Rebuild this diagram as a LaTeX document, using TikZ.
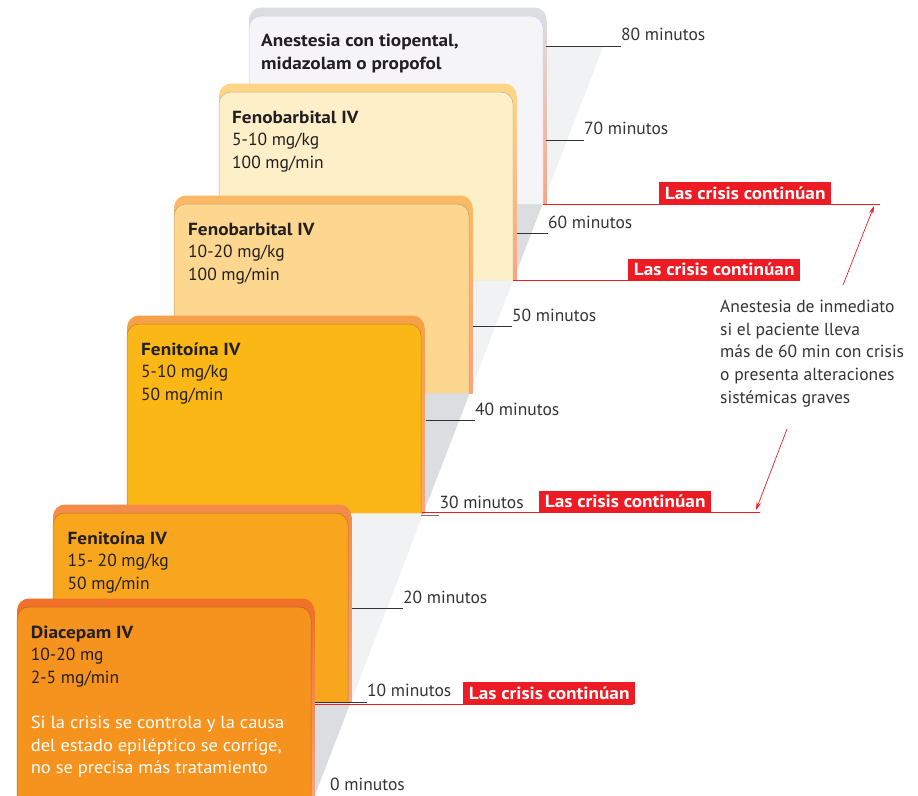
\documentclass[tikz,border=0pt]{standalone}
\usepackage{fontspec}
\setmainfont{PT Sans}[BoldFeatures={FakeStretch=1.1}]
\usetikzlibrary{arrows.meta}

\definecolor{inkdark}{HTML}{231F20}
\definecolor{inkgrey}{HTML}{333333}
\definecolor{crisisred}{HTML}{ED1C24}
\definecolor{steplight}{HTML}{F1F2F4}
\definecolor{stepdark}{HTML}{DCDDE0}
\definecolor{salmon}{HTML}{F8A482}
% card colours: back tab / front face
\definecolor{anaback}{HTML}{DCDDE0}\definecolor{anafront}{HTML}{F5F5F7}
\definecolor{fbaback}{HTML}{FDD585}\definecolor{fbafront}{HTML}{FDEFC8}
\definecolor{fbbback}{HTML}{FBB865}\definecolor{fbbfront}{HTML}{FDD78F}
\definecolor{fnaback}{HTML}{F7A04A}\definecolor{fnafront}{HTML}{FBB716}
\definecolor{fnbback}{HTML}{F48B4B}\definecolor{fnbfront}{HTML}{F7A61E}
\definecolor{diaback}{HTML}{F07127}\definecolor{diafront}{HTML}{F6921E}

% #1 left, #2 top, #3 right, #4 bottom, #5 back colour, #6 front colour, #7 edge colour
\newcommand{\dosecard}[7]{%
  \fill[#5, rounded corners=12pt] (#1,#4) -- (#1,#2-8.5) -- (#3+3.5,#2-8.5) -- (#3+3.5,#4);
  \shade[top color=#5, bottom color=salmon] (#3,#2+4) rectangle (#3+3.5,#4);
  \filldraw[fill=#6, draw=#7, line width=0.5pt, rounded corners=12pt]
    (#1,#4) -- (#1,#2) -- (#3,#2) -- (#3,#4);
}

% multi-line texts are anchored on the baseline of their last line
\tikzset{
  cardtext/.style={anchor=base west, inner sep=0pt, align=left, text=inkdark,
    font=\fontsize{17.5}{22.5}\selectfont},
  minlabel/.style={anchor=base west, inner sep=0pt, text=inkgrey,
    font=\fontsize{17.5}{20}\selectfont},
  crisis/.style={anchor=south west, fill=crisisred, text=white, inner sep=0pt,
    minimum width=172pt, minimum height=22pt, font=\fontsize{17.5}{20}\selectfont\bfseries},
  tick/.style={draw=inkgrey, line width=0.8pt},
  redline/.style={draw=crisisred, line width=0.8pt},
  redarrow/.style={draw=crisisred, line width=0.7pt, -{Stealth[length=8pt,width=4.5pt]}},
}

\begin{document}
\begin{tikzpicture}[x=1pt,y=-1pt]
\useasboundingbox (0,0) rectangle (918,795);

% grey stair behind the cards
\fill[steplight] (546,47) -- (603,47) -- (546,195) -- cycle;
\fill[stepdark]  (516,204) -- (542.6,204) -- (516,273) -- cycle;
\fill[steplight] (472,280) -- (513.3,280) -- (472,387) -- cycle;
\fill[stepdark]  (425,393) -- (469.8,393) -- (425,509) -- cycle;
\fill[steplight] (352,513) -- (423.6,513) -- (352,699) -- cycle;
\fill[stepdark]  (315,702) -- (350.8,702) -- (315,795) -- cycle;

% dose cards, from the last step down to the first
\dosecard{249}{16}{543}{204}{anaback}{anafront}{black!20!blue!20!white}
\dosecard{219}{92}{513}{280}{fbaback}{fbafront}{fbafront!75!black}
\dosecard{174}{204}{469}{393}{fbbback}{fbbfront}{fbbfront!75!black}
\dosecard{127}{324}{421}{513}{fnaback}{fnafront}{fnafront!75!black}
\dosecard{53}{513}{348}{702}{fnbback}{fnbfront}{fnbfront!75!black}
\dosecard{17}{607}{311}{797}{diaback}{diafront}{diafront!75!black}

% card texts
\node[cardtext, font=\fontsize{17.5}{23}\selectfont\bfseries] (ana) at (261,69.5)
  {Anestesia con tiopental,\\midazolam o propofol};
\node[cardtext] (fba) at (232,168) {\textbf{Fenobarbital IV}\\5-10 mg/kg\\100 mg/min};
\node[cardtext] (fbb) at (188,280) {\textbf{Fenobarbital IV}\\10-20 mg/kg\\100 mg/min};
\node[cardtext] (fna) at (141,400) {\textbf{Fenitoína IV}\\5-10 mg/kg\\50 mg/min};
\node[cardtext] (fnb) at (67.5,589) {\textbf{Fenitoína IV}\\15- 20 mg/kg\\50 mg/min};
\node[cardtext] (dia) at (30.7,683.3) {\textbf{Diacepam IV}\\10-20 mg\\2-5 mg/min};
\node[cardtext, text=white, font=\fontsize{17.5}{22.5}\selectfont\addfontfeatures{FakeStretch=1.055}]
  (diano) at (30.7,773.7)
  {Si la crisis se controla y la causa\\del estado epiléptico se corrige,\\no se precisa más tratamiento};

% time marks
\node[minlabel] (m80) at (621,40.5) {80 minutos};
\node[minlabel] (m70) at (584,134) {70 minutos};
\node[minlabel] (m60) at (548,228.3) {60 minutos};
\node[minlabel] (m50) at (512,321.7) {50 minutos};
\node[minlabel] (m40) at (475,415) {40 minutos};
\node[minlabel] (m30) at (439.3,508.3) {30 minutos};
\node[minlabel] (m20) at (403,603.3) {20 minutos};
\node[minlabel] (m10) at (367,696) {10 minutos};
\node[minlabel] (m0)  at (330,790) {0 minutos};

\coordinate (k80) at (546,46.7);
\coordinate (k70) at (546,140);
\coordinate (k60) at (517,233.3);
\coordinate (k50) at (473,326.7);
\coordinate (k40) at (426,420.7);
\coordinate (k30) at (421,515);
\coordinate (k20) at (352,608.3);
\coordinate (k10) at (315,702.3);

\draw[tick] (k80) -- (k80 -| m80.west);
\draw[tick] (k70) -- (k70 -| m70.west);
\draw[tick] (k60) -- (k60 -| m60.west);
\draw[tick] (k50) -- (k50 -| m50.west);
\draw[tick] (k40) -- (k40 -| m40.west);
\draw[tick, draw=black!55] (k30) -- (k30 -| m30.west);
\draw[tick] (k20) -- (k20 -| m20.west);
\draw[tick] (k10) -- (k10 -| m10.west);

% "las crisis continúan" thresholds
\coordinate (r1s) at (543,204);   \coordinate (r1e) at (880,204);
\coordinate (r2s) at (513,280.5); \coordinate (r2e) at (800,280.5);
\coordinate (r3s) at (422,512.5); \coordinate (r3e) at (760,512.5);
\coordinate (r4s) at (315,704);   \coordinate (r4e) at (633,704);

\draw[redline] (r1s) -- (r1e);
\draw[redline] (r2s) -- (r2e);
\draw[redline] (r3s) -- (r3e);
\draw[redline] (r4s) -- (r4e);

\node[crisis] (c1) at (659,204.4) {Las crisis continúan};
\node[crisis] (c2) at (628,280.9) {Las crisis continúan};
\node[crisis] (c3) at (539,512.9) {Las crisis continúan};
\node[crisis] (c4) at (463,704.4) {Las crisis continúan};

% note on immediate anaesthesia
\node[cardtext, text=inkgrey, font=\fontsize{17.5}{22.6}\selectfont] (note) at (720,403.1)
  {Anestesia de inmediato\\si el paciente lleva\\más de 60 min con crisis\\o presenta alteraciones\\sistémicas graves};

\coordinate (a1s) at (843,285);  \coordinate (a1e) at (874,206);
\coordinate (a2s) at (787,429);  \coordinate (a2e) at (756,510);
\draw[redarrow] (a1s) -- (a1e);
\draw[redarrow] (a2s) -- (a2e);
\end{tikzpicture}
\end{document}
